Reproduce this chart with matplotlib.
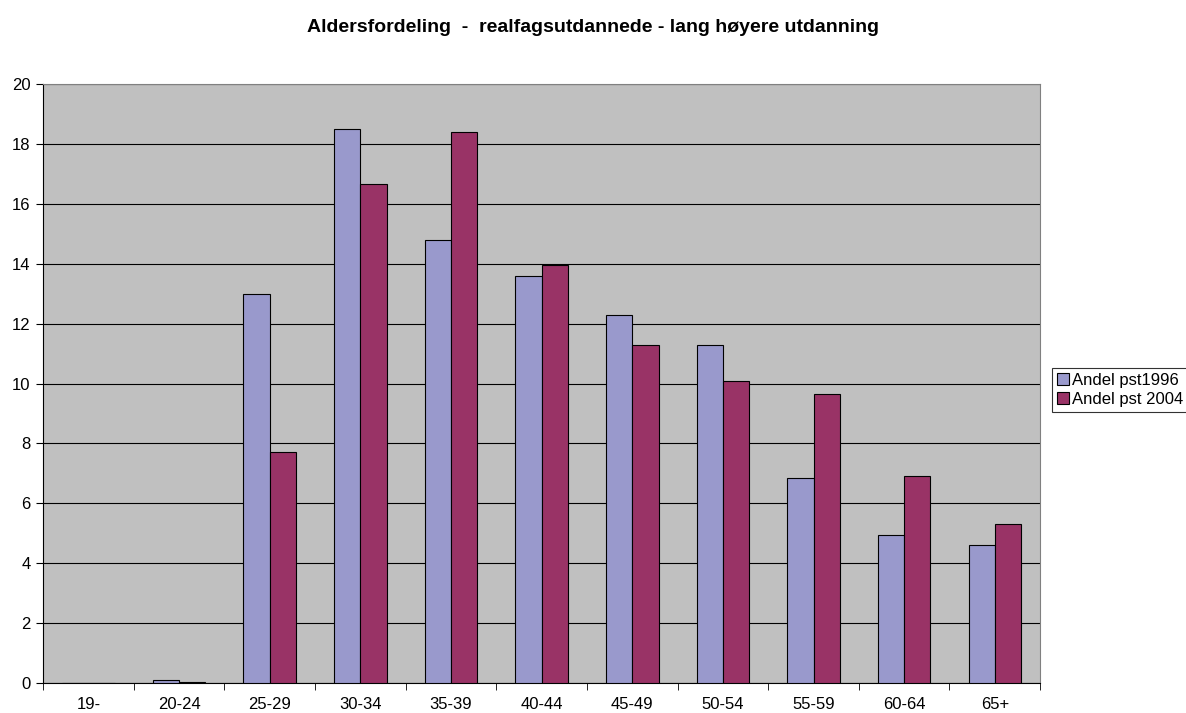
import matplotlib
matplotlib.use("Agg")
import matplotlib.pyplot as plt
import numpy as np

plt.rcParams['font.family'] = ['Liberation Sans', 'DejaVu Sans']

categories = ["19-", "20-24", "25-29", "30-34", "35-39", "40-44", "45-49",
              "50-54", "55-59", "60-64", "65+"]
andel_1996 = [0.0, 0.1, 13.0, 18.5, 14.8, 13.6, 12.3, 11.3, 6.85, 4.95, 4.6]
andel_2004 = [0.0, 0.03, 7.7, 16.65, 18.4, 13.95, 11.3, 10.1, 9.65, 6.93, 5.3]
series_labels = ["Andel pst1996", "Andel pst 2004"]

fig = plt.figure(figsize=(11.86, 7.13), dpi=100)
ax = fig.add_axes([0.0363, 0.042, 0.8407, 0.840])
ax.set_facecolor("#C0C0C0")

x = np.arange(len(categories))
w = 0.29
ax.bar(x - w / 2, andel_1996, w, color="#9999CC", edgecolor="black",
       linewidth=0.8, label=series_labels[0], zorder=3)
ax.bar(x + w / 2, andel_2004, w, color="#993366", edgecolor="black",
       linewidth=0.8, label=series_labels[1], zorder=3)

ax.set_xlim(-0.5, len(categories) - 0.5)
ax.set_ylim(0, 20)
ax.set_yticks(np.arange(0, 21, 2))
ax.yaxis.grid(True, color="black", linewidth=0.8, zorder=1)
ax.set_xticks(x)
ax.set_xticklabels(categories)
ax.set_xticks(np.arange(-0.5, len(categories), 1), minor=True)
ax.tick_params(axis="x", which="major", length=0, pad=10, labelsize=12)
ax.tick_params(axis="x", which="minor", length=5, color="black")
ax.tick_params(axis="y", length=5, labelsize=12, pad=4)

for side in ["top", "right"]:
    ax.spines[side].set_color("#808080")
for side in ["left", "bottom"]:
    ax.spines[side].set_color("black")

fig.text(0.5, 1 - 32 / 713,
         "Aldersfordeling  -  realfagsutdannede - lang høyere utdanning",
         ha="center", va="baseline", fontsize=14, fontweight="bold")

leg = fig.legend(loc="upper left", bbox_to_anchor=(0.887, 0.484),
                 fontsize=12, frameon=True, fancybox=False, handlelength=0.7,
                 handleheight=0.7, handletextpad=0.2, borderpad=0.3,
                 labelspacing=0.25, borderaxespad=0)
leg.get_frame().set_edgecolor("black")
leg.get_frame().set_linewidth(0.8)

fig.savefig("out.png", dpi=100)
